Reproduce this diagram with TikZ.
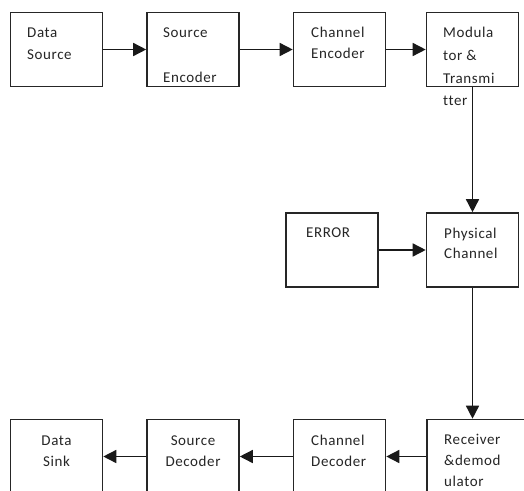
\documentclass[tikz,border=0pt]{standalone}
\usepackage{fontspec}
\setmainfont{Carlito}[LetterSpace=4,Ligatures={NoCommon,NoRare}]
\usetikzlibrary{arrows.meta}
\begin{document}
\begin{tikzpicture}[x=1pt,y=-1pt,
  blk/.style={draw=black!85,line width=1.6pt,inner sep=0pt,minimum width=92pt,minimum height=74pt},
  lbl/.style={anchor=base west,inner sep=0pt,font=\fontsize{15}{22}\selectfont,text=black!85},
  lblc/.style={lbl,anchor=base},
  arr/.style={draw=black!90,line width=1.5pt,-{Triangle[length=13pt,width=13pt]}}]
\clip (0,0) rectangle (524,490);
\fill[white] (0,0) rectangle (524,490);
% boxes
\node[blk] (ds) at (56.5,49.5) {};
\node[blk] (se) at (193,49.5) {};
\node[blk] (ce) at (339.5,49.5) {};
\node[blk] (mt) at (472.5,49.5) {};
\node[blk] (err) at (332,250) {};
\node[blk] (pc) at (472.5,250) {};
\node[blk] (sk) at (56.5,456.5) {};
\node[blk] (sd) at (193,456.5) {};
\node[blk] (cd) at (339.5,456.5) {};
\node[blk,minimum width=110pt] (rd) at (482,456.5) {};
% labels
\node[lbl] (t1) at (27,37) {Data};
\node[lbl] (t2) at (27,59) {Source};
\node[lbl] (t3) at (163,37) {Source};
\node[lbl] (t4) at (163,82) {Encoder};
\node[lbl] (t5) at (311,37) {Channel};
\node[lbl] (t6) at (311,58) {Encoder};
\node[lbl] (t7) at (443,37) {Modula};
\node[lbl] (t8) at (443,60) {tor \&};
\node[lbl] (t9) at (443,83) {Transmi};
\node[lbl] (t10) at (443,105) {t{}ter};
\node[lbl] (t11) at (306,237) {ERROR};
\node[lbl] (t12) at (444,238) {Physical};
\node[lbl] (t13) at (444,258) {Channel};
\node[lblc] (t14) at (56.5,445) {Data};
\node[lblc] (t15) at (56.5,466) {Sink};
\node[lblc] (t16) at (193,445) {Source};
\node[lblc] (t17) at (193,466) {Decoder};
\node[lbl] (t18) at (311,445) {Channel};
\node[lbl] (t19) at (311,466) {Decoder};
\node[lbl] (t20) at (444,444) {Receiver};
\node[lbl] (t21) at (444,465) {\&demod};
\node[lbl] (t22) at (444,486) {ulator};
% connectors
\draw[arr] (ds.east) -- (se.west);
\draw[arr] (se.east) -- (ce.west);
\draw[arr] (ce.east) -- (mt.west);
\draw[arr] (mt.south) -- (pc.north);
\draw[arr] (err.east) -- (pc.west);
\draw[arr] (pc.south) -- (pc.south |- rd.north);
\draw[arr] (rd.west) -- (cd.east);
\draw[arr] (cd.west) -- (sd.east);
\draw[arr] (sd.west) -- (sk.east);
\end{tikzpicture}
\end{document}
